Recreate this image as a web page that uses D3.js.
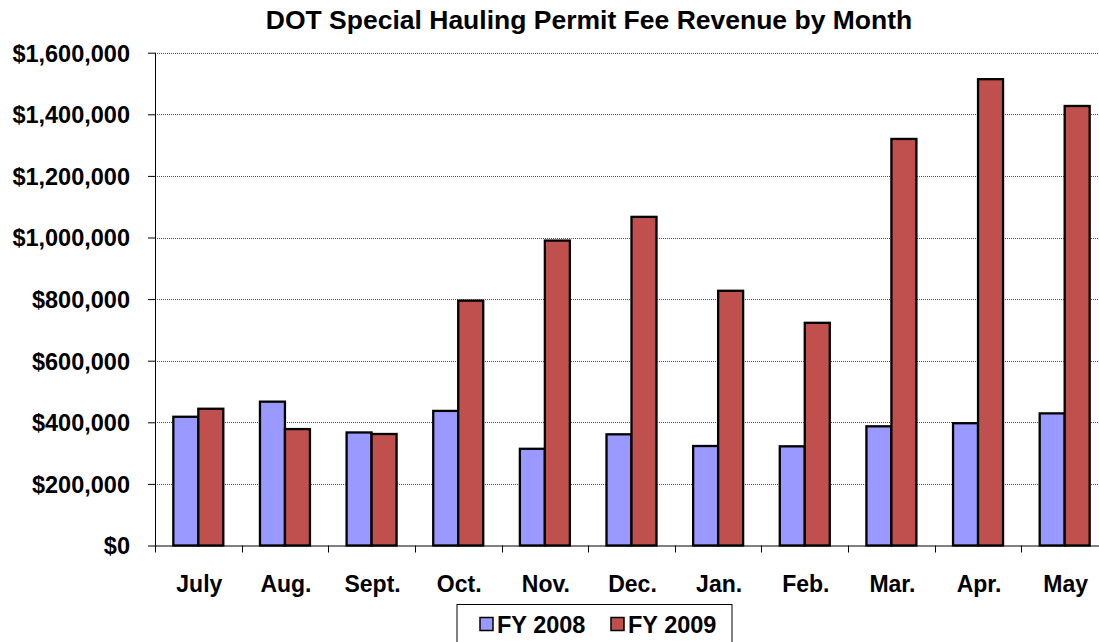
<!DOCTYPE html>
<html><head><meta charset="utf-8">
<script src="https://cdn.jsdelivr.net/npm/d3@7"></script>
<style>
body{margin:0;background:#fff;}
svg{display:block;font-family:"Liberation Sans",Arial,sans-serif;}
</style></head>
<body><svg id="c" width="1099" height="642"></svg>
<script>
const months = ["July","Aug.","Sept.","Oct.","Nov.","Dec.","Jan.","Feb.","Mar.","Apr.","May"];
const fy2008 = [418000,467000,367000,437000,314000,361000,323000,322000,387000,397000,429000];
const fy2009 = [444000,378000,362000,795000,990000,1067000,827000,723000,1320000,1514000,1427000];
const seriesNames = ["FY 2008","FY 2009"];
const seriesColors = ["#9999ff","#c0504d"];
const yTicks = [0,200000,400000,600000,800000,1000000,1200000,1400000,1600000];
const title = "DOT Special Hauling Permit Fee Revenue by Month";

const svg = d3.select("#c");
const pLeft = 155, pRight = 1108, pTop = 52.7, pBottom = 545.5;

const x = d3.scaleBand().domain(months).range([pLeft,pRight]).paddingInner(0).paddingOuter(0);
const y = d3.scaleLinear().domain([0,1600000]).range([pBottom,pTop]);
const barW = x.bandwidth()*0.2885;
const groupOff = (x.bandwidth()-2*barW)/2;

// gridlines
svg.append("g").selectAll("line").data(yTicks.filter(d=>d>0)).join("line")
  .attr("x1",pLeft).attr("x2",pRight)
  .attr("y1",d=>Math.round(y(d))+0.5).attr("y2",d=>Math.round(y(d))+0.5)
  .attr("stroke","#555").attr("stroke-width",1).attr("stroke-dasharray","1,1");

// bars
const data = months.map((m,i)=>({m, v:[fy2008[i],fy2009[i]]}));
const g = svg.append("g");
data.forEach(d=>{
  d.v.forEach((v,j)=>{
    g.append("rect")
      .attr("x", x(d.m)+groupOff+j*barW)
      .attr("y", y(v))
      .attr("width", barW)
      .attr("height", y(0)-y(v))
      .attr("fill", seriesColors[j])
      .attr("stroke","#000").attr("stroke-width",2.3);
  });
});

// y axis
const yAxis = d3.axisLeft(y).tickValues(yTicks).tickSize(7).tickPadding(18)
  .tickFormat(d=>"$"+d3.format(",")(d));
const ya = svg.append("g").attr("transform",`translate(${pLeft},0)`).call(yAxis);
ya.select(".domain").remove();
ya.attr("font-family",null).attr("font-size",null);
ya.selectAll(".tick line").attr("stroke","#000");
ya.selectAll("text").attr("font-size","23.5px").attr("font-weight","bold").attr("fill","#000")
  .attr("x",-25).attr("dy","0.36em");
svg.append("line").attr("x1",pLeft+0.5).attr("x2",pLeft+0.5).attr("y1",pTop).attr("y2",pBottom+7).attr("stroke","#000");

// x axis
const xa = svg.append("g").attr("transform",`translate(0,${pBottom})`);
xa.append("line").attr("x1",pLeft).attr("x2",pRight).attr("y1",0.5).attr("y2",0.5).attr("stroke","#000");
xa.selectAll("line.tk").data(months.slice(1)).join("line").attr("class","tk")
  .attr("x1",d=>Math.round(x(d))+0.5).attr("x2",d=>Math.round(x(d))+0.5)
  .attr("y1",0).attr("y2",7).attr("stroke","#000");
xa.selectAll("text").data(months).join("text")
  .attr("x",d=>x(d)+x.bandwidth()/2+1).attr("y",46)
  .attr("text-anchor","middle").attr("font-size","23px").attr("font-weight","bold").text(d=>d);

// title
svg.append("text").attr("x",589).attr("y",29).attr("text-anchor","middle")
  .attr("font-size","26.5px").attr("font-weight","bold").text(title);

// legend
const lg = svg.append("g");
lg.append("rect").attr("x",457).attr("y",604.5).attr("width",275).attr("height",45)
  .attr("fill","#fff").attr("stroke","#000").attr("stroke-width",1);
const lx = [480,611];
seriesNames.forEach((n,i)=>{
  lg.append("rect").attr("x",lx[i]).attr("y",617.5).attr("width",13).attr("height",13)
    .attr("fill",seriesColors[i]).attr("stroke","#000").attr("stroke-width",1.5);
  lg.append("text").attr("x",lx[i]+17).attr("y",633).attr("font-size","23.5px").attr("font-weight","bold").text(n);
});
</script></body></html>
